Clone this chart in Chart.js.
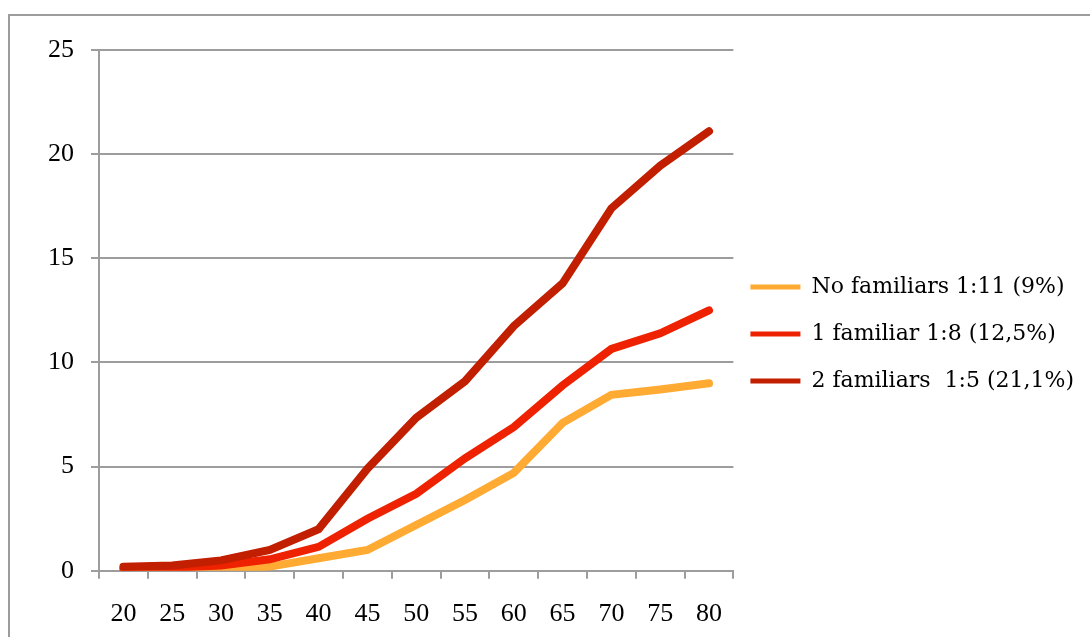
<!DOCTYPE html>
<html>
<head>
<meta charset="utf-8">
<script src="https://cdn.jsdelivr.net/npm/chart.js@4.4.1/dist/chart.umd.min.js"></script>
<style>
  html, body { margin: 0; padding: 0; background: #fff; }
  #wrap { position: relative; width: 1090px; height: 637px; overflow: hidden; }
  #frame { position: absolute; left: 8px; top: 14px; width: 1200px; height: 700px;
           border-left: 2px solid #9c9c9c; border-top: 2px solid #9c9c9c; }
  canvas { position: absolute; left: 0; top: 0; }
</style>
</head>
<body>
<div id="wrap">
  <div id="frame"></div>
  <canvas id="riskChart" width="1090" height="637"></canvas>
</div>
<script>
// age groups on the x axis
const ages = ['20', '25', '30', '35', '40', '45', '50', '55', '60', '65', '70', '75', '80'];

// cumulative risk (%) per group
const noFamiliars  = [0, 0, 0.05, 0.2, 0.6, 1.0, 2.2, 3.4, 4.7, 7.1, 8.45, 8.7, 9.0];
const oneFamiliar  = [0.1, 0.15, 0.25, 0.55, 1.15, 2.5, 3.7, 5.4, 6.9, 8.9, 10.65, 11.4, 12.5];
const twoFamiliars = [0.2, 0.25, 0.5, 1.0, 2.0, 4.9, 7.35, 9.1, 11.75, 13.8, 17.4, 19.45, 21.1];

const seriesLabels = ['No familiars 1:11 (9%)', '1 familiar 1:8 (12,5%)', '2 familiars  1:5 (21,1%)'];
const seriesColors = ['#ffaa33', '#ee2200', '#c21e00'];

const gridGray = '#9d9d9d';
const tickFont = { family: 'Liberation Serif', size: 26 };

// move the legend block a bit left and up from where the layout puts it
const legendNudge = {
    id: 'legendNudge',
    afterLayout(chart) {
        const lg = chart.legend;
        lg.left -= 8;
        lg.right -= 8;
        lg.top -= 16;
        lg.bottom -= 16;
    }
};

const ctx = document.getElementById('riskChart').getContext('2d');

new Chart(ctx, {
    type: 'line',
    data: {
        labels: ages,
        datasets: [
            { label: seriesLabels[0], data: noFamiliars,  borderColor: seriesColors[0], backgroundColor: seriesColors[0], order: 2 },
            { label: seriesLabels[1], data: oneFamiliar,  borderColor: seriesColors[1], backgroundColor: seriesColors[1], order: 1 },
            { label: seriesLabels[2], data: twoFamiliars, borderColor: seriesColors[2], backgroundColor: seriesColors[2], order: 0 }
        ]
    },
    options: {
        responsive: false,
        animation: false,
        devicePixelRatio: 1,
        layout: { padding: { left: 31, top: 50, right: -2, bottom: -13 } },
        elements: {
            line: { borderWidth: 8, tension: 0, borderCapStyle: 'round', fill: false },
            point: { radius: 0, hoverRadius: 0 }
        },
        scales: {
            x: {
                offset: true,
                grid: { offset: true, drawOnChartArea: false, tickLength: 8, color: gridGray, lineWidth: 2 },
                border: { color: gridGray, width: 2 },
                ticks: { font: tickFont, color: '#000', padding: 20, autoSkip: false, maxRotation: 0 }
            },
            y: {
                min: 0,
                max: 25,
                grid: { tickLength: 8, color: gridGray, lineWidth: 2 },
                border: { color: gridGray, width: 2 },
                ticks: { stepSize: 5, font: tickFont, color: '#000', padding: 17 }
            }
        },
        plugins: {
            tooltip: { enabled: false },
            legend: {
                position: 'right',
                maxWidth: 370,
                labels: {
                    font: { family: 'DejaVu Serif', size: 22 },
                    color: '#000',
                    padding: 25,
                    usePointStyle: true,
                    pointStyle: 'line',
                    pointStyleWidth: 50,
                    sort: (a, b) => a.datasetIndex - b.datasetIndex,
                    generateLabels: chart =>
                        Chart.defaults.plugins.legend.labels.generateLabels(chart)
                            .map(item => ({ ...item, lineWidth: 5 }))
                }
            }
        }
    },
    plugins: [legendNudge]
});
</script>
</body>
</html>
